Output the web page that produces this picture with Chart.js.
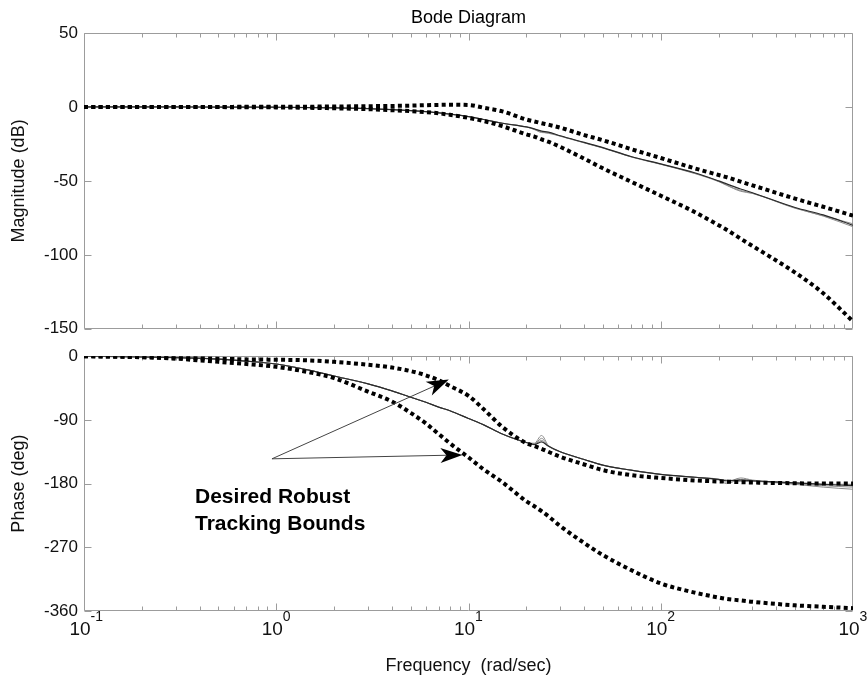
<!DOCTYPE html>
<html><head><meta charset="utf-8">
<script src="https://cdn.jsdelivr.net/npm/chart.js@4/dist/chart.umd.min.js"></script>
<style>
html,body{margin:0;padding:0;background:#fff;}
#wrap{position:relative;width:867px;height:682px;overflow:hidden;background:#fff;}
canvas{position:absolute;left:0;}
#c1{top:0;width:867px;height:345px;}
#c2{top:340px;width:867px;height:342px;}
</style></head><body>
<div id="wrap"><canvas id="c1" width="867" height="345"></canvas><canvas id="c2" width="867" height="342"></canvas></div>
<script>
// ---- data ----
const freq = [0.1,0.2,0.3,0.5,0.7,1,1.5,2,3,4,5,6,7,8,10,12,15,20,22,24,26,30,40,50,70,100,150,200,220,260,300,500,700,1000];
const decades = [0.1,1,10,100,1000];
const xTickBase = '10';
const xTickExponents = ['-1','0','1','2','3'];
const magTicks = [50,0,-50,-100,-150];
const phaseTicks = [0,-90,-180,-270,-360];

const magUpper   = [0,0,0,0,0.1,0.1,0.2,0.3,0.5,0.7,0.9,1.2,1.4,1.5,1.3,-0.5,-3,-8.5,-9.8,-11,-12,-14,-19,-22.5,-28.5,-34.5,-41.5,-46,-47.5,-50.5,-53,-62,-67.5,-73.5];
const magLower   = [0,0,0,-0.1,-0.2,-0.3,-0.6,-0.9,-1.5,-2.2,-2.8,-3.5,-4.3,-5.3,-7.4,-9.5,-13,-18.5,-20,-22,-23.5,-27,-35,-41.5,-50.5,-60,-71,-80,-83,-89,-94,-112,-126,-145];
const magNominal = [0,0,0,-0.1,-0.1,-0.2,-0.4,-0.6,-1.1,-1.8,-2.5,-3.2,-4,-4.8,-6.5,-8.5,-11,-13.5,-14.8,-16.3,-17,-19.5,-24,-27.5,-33.5,-38.5,-44.5,-50,-52,-55.5,-58,-68,-73,-80];
const magGray1   = [0,0,0,-0.1,-0.1,-0.2,-0.4,-0.6,-1.1,-1.8,-2.5,-3.2,-4,-4.8,-6.5,-8.5,-11,-13.5,-15.3,-17.3,-17.5,-19.8,-24.3,-27.8,-33.8,-38.8,-45,-50.5,-53,-57,-58.5,-68.5,-73.5,-79];
const magGray2   = [0,0,0,-0.1,-0.1,-0.2,-0.4,-0.6,-1.1,-1.8,-2.5,-3.2,-4,-4.8,-6.5,-8.5,-11,-13.5,-15,-16.8,-17.8,-19.6,-24.2,-27.6,-33.6,-38.6,-44.8,-50.2,-52.8,-56.5,-58.3,-68.3,-73.8,-81];

const phaseUpper   = [0,-1,-2,-3.5,-4.5,-5,-6,-8,-12,-16,-21,-27,-34,-42,-56,-75,-100,-123,-127,-131,-135,-142,-153,-161,-168,-172,-175.5,-177,-177.3,-178,-178.5,-179.5,-180,-180];
const phaseLower   = [0,-1.5,-3.5,-8,-11,-15,-23,-31,-50,-64,-80,-95,-110,-123,-143,-160,-178,-205,-212,-219,-226,-240,-264,-281,-302,-321,-334,-341,-343,-345,-347,-352,-354,-356];
const phaseNominal = [0,-1,-2,-4,-7,-11,-20,-28,-39,-49,-58,-65,-72,-77,-88,-97,-110,-122,-125,-121,-127,-135,-146,-154,-161,-167,-171,-174,-176,-175,-176,-179,-181,-183];
const phaseGray1   = [0,-1,-2,-4,-7,-11,-20,-28,-39,-49,-58,-65,-72,-77,-88,-97,-110,-122,-123,-112,-126,-135,-146,-154,-161,-167,-171,-174,-178,-172,-175,-180,-183,-185];
const phaseGray2   = [0,-1,-2,-4,-7,-11,-20,-28,-39,-49,-58,-65,-72,-77,-88,-97,-110,-122,-124,-116,-127,-135,-146,-154,-161,-167,-171,-175,-180,-174,-176,-181,-185,-188];
const phaseGray3   = [0,-1,-2,-4,-7,-11,-20,-28,-39,-49,-58,-65,-72,-77,-88,-97,-110,-122,-124,-119,-127,-135,-146,-154,-161,-167,-171,-174,-175,-177,-177,-179,-181,-181];

// annotation (data coordinates: frequency, phase)
const arrowFrom = [0.95,-145];
const arrowTips = [[7.9,-33],[9.3,-139.5]];
const annotLines = ['Desired Robust','Tracking Bounds'];
const annotX = 0.378;
const annotY = [-208,-245.5];

// ---- helpers ----
const FONT = "'Liberation Sans', Arial, Helvetica, sans-serif";
const AXIS_GRAY = '#9c9c9c';
const pts = ys => freq.map((f,i)=>({x:f,y:ys[i]}));
const gray = d => ({data:pts(d), borderColor:'#8c8c8c', borderWidth:1, pointRadius:0});
const nom  = d => ({data:pts(d), borderColor:'#2a2a2a', borderWidth:1.2, pointRadius:0});
const bnd  = d => ({data:pts(d), borderColor:'#000', borderWidth:4, borderDash:[4,3.3], borderCapStyle:'butt', pointRadius:0});

const frame = {
  id:'frame',
  beforeDatasetsDraw(chart){
    const {ctx, chartArea:a, scales:{x,y}} = chart;
    const L=Math.round(a.left)+0.5, R=Math.round(a.right)-0.5, T=Math.round(a.top)+0.5, B=Math.round(a.bottom)-0.5;
    ctx.save(); ctx.strokeStyle=AXIS_GRAY; ctx.lineWidth=1;
    ctx.beginPath(); ctx.rect(L,T,R-L,B-T);
    for (const d of [0.1,1,10,100]) for (let k=1;k<=9;k++){
      const px=Math.round(x.getPixelForValue(k*d))+0.5; const len=k===1?7:4;
      ctx.moveTo(px,B); ctx.lineTo(px,B-len); ctx.moveTo(px,T); ctx.lineTo(px,T+len);
    }
    y.ticks.forEach(t=>{const py=Math.round(y.getPixelForValue(t.value))+0.5;
      ctx.moveTo(L,py); ctx.lineTo(L+7,py); ctx.moveTo(R,py); ctx.lineTo(R-7,py);});
    ctx.stroke(); ctx.restore();
  }
};

// exponents of the decade labels (superscripts)
const expPlugin = {
  id:'exps',
  afterDraw(chart){
    const {ctx, chartArea:a, scales:{x}} = chart;
    ctx.save();
    ctx.font = '19px '+FONT;
    const baseW = ctx.measureText(xTickBase).width;
    ctx.font = '14px '+FONT; ctx.fillStyle='#111'; ctx.textAlign='left'; ctx.textBaseline='alphabetic';
    decades.forEach((v,i)=>{
      const px = x.getPixelForValue(v) - 4 + baseW/2;
      ctx.fillText(xTickExponents[i], px, a.bottom + 10);
    });
    ctx.restore();
  }
};

function drawArrow(ctx,x0,y0,x1,y1){
  const a=Math.atan2(y1-y0,x1-x0), c=Math.cos(a), s=Math.sin(a);
  const Lh=22, W=7.5, N=16;
  ctx.beginPath(); ctx.moveTo(x0,y0); ctx.lineTo(x1-N*c,y1-N*s); ctx.stroke();
  ctx.beginPath(); ctx.moveTo(x1,y1);
  ctx.lineTo(x1-Lh*c+W*s, y1-Lh*s-W*c);
  ctx.lineTo(x1-N*c, y1-N*s);
  ctx.lineTo(x1-Lh*c-W*s, y1-Lh*s+W*c);
  ctx.closePath(); ctx.fill();
}

const annot = {
  id:'annot',
  afterDatasetsDraw(chart){
    const {ctx, scales:{x,y}} = chart;
    const sx=x.getPixelForValue(arrowFrom[0]), sy=y.getPixelForValue(arrowFrom[1]);
    ctx.save(); ctx.strokeStyle='#444'; ctx.fillStyle='#000'; ctx.lineWidth=1;
    arrowTips.forEach(t=>drawArrow(ctx,sx,sy,x.getPixelForValue(t[0]),y.getPixelForValue(t[1])));
    ctx.font='bold 21px '+FONT; ctx.fillStyle='#000'; ctx.textBaseline='alphabetic'; ctx.textAlign='left';
    annotLines.forEach((s,i)=>ctx.fillText(s, x.getPixelForValue(annotX), y.getPixelForValue(annotY[i])));
    ctx.restore();
  }
};

const yCommon = (ticksArr, min, max, title) => ({
  min, max,
  afterFit: s => { s.width = 84; },
  afterBuildTicks: s => { s.ticks = ticksArr.map(v=>({value:v})); },
  grid:{display:false, drawTicks:false}, border:{display:false},
  ticks:{color:'#111', font:{family:FONT,size:17}, padding:6, autoSkip:false},
  title:{display:true, text:title, color:'#111', font:{family:FONT,size:18}, padding:{top:8,bottom:0}}
});

const base = {
  responsive:false, animation:false, devicePixelRatio:1,
  elements:{point:{radius:0}, line:{cubicInterpolationMode:'monotone'}},
};

new Chart(document.getElementById('c1'), {
  type:'line',
  data:{datasets:[bnd(magUpper), bnd(magLower), nom(magNominal), gray(magGray1), gray(magGray2)]},
  options:Object.assign({}, base, {
    layout:{padding:{left:0,right:14,top:0,bottom:16}},
    plugins:{legend:{display:false}, tooltip:{enabled:false},
      title:{display:true, fullSize:false, text:'Bode Diagram', color:'#000', font:{family:FONT,size:18,weight:'normal'}, padding:{top:7,bottom:4.4}}},
    scales:{
      x:{type:'logarithmic', min:0.1, max:1000, display:false},
      y:yCommon(magTicks,-150,50,'Magnitude (dB)')
    }
  }),
  plugins:[frame]
});

new Chart(document.getElementById('c2'), {
  type:'line',
  data:{datasets:[bnd(phaseUpper), bnd(phaseLower), nom(phaseNominal), gray(phaseGray1), gray(phaseGray2), gray(phaseGray3)]},
  options:Object.assign({}, base, {
    layout:{padding:{left:0,right:14,top:12,bottom:0}},
    plugins:{legend:{display:false}, tooltip:{enabled:false}},
    scales:{
      x:{type:'logarithmic', min:0.1, max:1000,
        afterFit: s => { s.height = 71; s.paddingLeft = 0; s.paddingRight = 0; },
        afterBuildTicks: s => { s.ticks = decades.map(v=>({value:v})); },
        grid:{display:false, drawTicks:false}, border:{display:false},
        ticks:{color:'#111', font:{family:FONT,size:19}, padding:7, autoSkip:false, maxRotation:0, labelOffset:-4,
          callback:(v)=>decades.indexOf(v)>=0 ? xTickBase : ''},
        title:{display:true, text:'Frequency  (rad/sec)', color:'#111', font:{family:FONT,size:18}, padding:{top:0,bottom:5}}
      },
      y:yCommon(phaseTicks,-360,0,'Phase (deg)')
    }
  }),
  plugins:[frame, annot, expPlugin]
});
</script>
</body></html>
